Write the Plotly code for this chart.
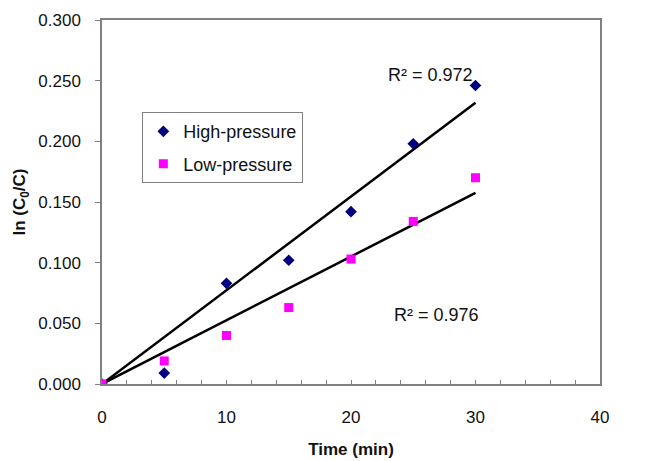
import plotly.graph_objects as go

time_min = [0, 5, 10, 15, 20, 25, 30]
high_pressure = [0.000, 0.009, 0.083, 0.102, 0.142, 0.198, 0.246]
low_pressure = [0.000, 0.019, 0.040, 0.063, 0.103, 0.134, 0.170]
r2_high = 0.972
r2_low = 0.976
x_ticks = [0, 10, 20, 30, 40]
y_ticks = [0.0, 0.05, 0.10, 0.15, 0.20, 0.25, 0.30]


def slope_origin(x, y):
    return sum(a * b for a, b in zip(x, y)) / sum(a * a for a in x)


s_high = slope_origin(time_min, high_pressure)
s_low = slope_origin(time_min, low_pressure)
x_fit = [0, 30]

FONT = "Liberation Sans, Arial, sans-serif"

fig = go.Figure()
fig.add_trace(go.Scatter(x=x_fit, y=[s_high * v for v in x_fit], mode="lines",
                         line=dict(color="black", width=2.5), showlegend=False, hoverinfo="skip"))
fig.add_trace(go.Scatter(x=x_fit, y=[s_low * v for v in x_fit], mode="lines",
                         line=dict(color="black", width=2.5), showlegend=False, hoverinfo="skip"))
fig.add_trace(go.Scatter(x=time_min, y=high_pressure, mode="markers", name="High-pressure",
                         legendgroup="hp",
                         marker=dict(symbol="diamond", color="#000080", size=9)))
fig.add_trace(go.Scatter(x=time_min, y=low_pressure, mode="markers", name="Low-pressure",
                         legendgroup="lp",
                         marker=dict(symbol="square", color="#FF00FF", size=9)))

fig.add_annotation(x=26.4, y=0.255, text=f"R² = {r2_high}", showarrow=False,
                   font=dict(size=18, color="#111", family=FONT))
fig.add_annotation(x=26.9, y=0.057, text=f"R² = {r2_low}", showarrow=False,
                   font=dict(size=18, color="#111", family=FONT))

# page body has an 8px default margin; the figure is sized to fit the window
fig.update_layout(
    width=641, height=453,
    margin=dict(l=94, r=49, t=12, b=77, autoexpand=False),
    paper_bgcolor="white", plot_bgcolor="white",
    font=dict(family=FONT, size=17, color="#111"),
    legend=dict(x=0.081, y=0.747, xanchor="left", yanchor="top",
                bordercolor="#808080", borderwidth=1, bgcolor="white",
                traceorder="grouped", tracegroupgap=6,
                font=dict(size=18, color="#111", family=FONT)),
    xaxis=dict(range=[0, 40], tickvals=x_ticks, ticks="inside", ticklen=4,
               tickcolor="#808080", showline=True, linecolor="#808080", linewidth=1.5,
               mirror=True, showgrid=False, zeroline=False, automargin=False,
               minor=dict(dtick=2, ticks="inside", ticklen=4, tickcolor="#808080"),
               ticklabelstandoff=17,
               title=dict(text="<b>Time (min)</b>", font=dict(size=17), standoff=17)),
    yaxis=dict(range=[0, 0.3], tickvals=y_ticks, tickformat=".3f", ticks="outside", ticklen=5,
               tickcolor="#808080", showline=True, linecolor="#808080", linewidth=1.5,
               mirror=True, showgrid=False, zeroline=False, automargin=False,
               ticklabelstandoff=11,
               title=dict(text="<b>ln (C<sub>0</sub>/C)</b>", font=dict(size=17), standoff=8)),
)

fig.write_html("out.html")
